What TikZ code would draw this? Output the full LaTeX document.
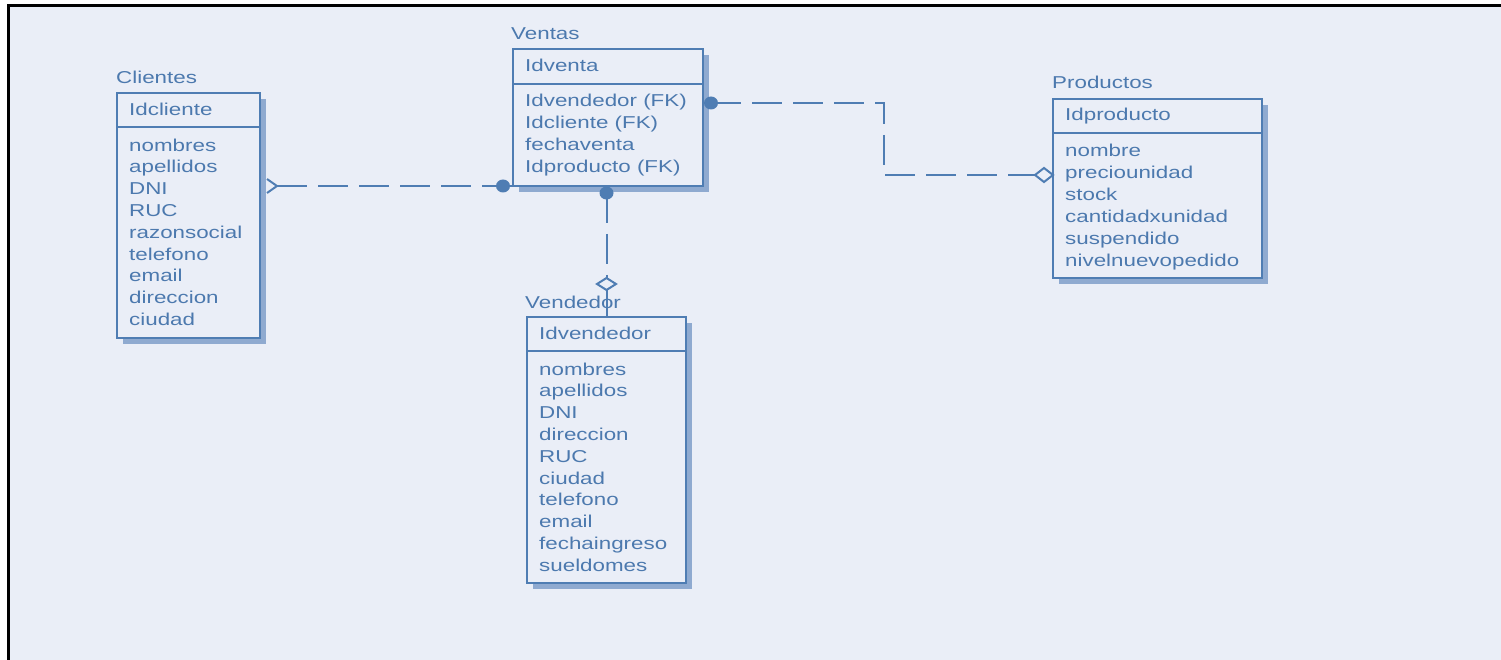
\documentclass[tikz,border=0pt]{standalone}
\usepackage{fontspec}
\setmainfont{Liberation Sans}[FakeStretch=1.3]
\usetikzlibrary{calc,shadows}
\definecolor{bgc}{HTML}{EAEEF7}
\definecolor{lnc}{HTML}{4F7DB3}
\definecolor{txc}{HTML}{4C79AE}
\definecolor{shc}{HTML}{8FAAD0}
\begin{document}
\begin{tikzpicture}[x=1pt,y=-1pt,
 entity/.style={draw=lnc, line width=2pt, fill=bgc, rectangle, inner sep=0pt, anchor=north west,
   drop shadow={shadow xshift=6pt,shadow yshift=-6pt,fill=shc,opacity=1}},
 etitle/.style={text=txc, font=\fontsize{17.2}{21.8}\selectfont, inner sep=0pt, anchor=base west},
 attr/.style={etitle, align=left},
 rel/.style={draw=lnc, line width=2pt},
 reldash/.style={rel, dash pattern=on 30pt off 11pt},
 dotc/.style={fill=lnc},
 dia/.style={draw=lnc, line width=2pt, fill=bgc}]
\useasboundingbox (0,0) rectangle (1501,660);
\fill[white] (0,0) rectangle (1501,660);
\fill[bgc] (8,6) rectangle (1501,660);
\draw[black, line width=3pt] (8,660) -- (8,6) -- (1501,6);

% Clientes
\node[entity, minimum width=143pt, minimum height=245pt] (cli) at (116,92) {};
\draw[rel] (cli.west |- 0,127) -- (cli.east |- 0,127);
\node[etitle] (clin) at (116,84) {Clientes};
\node[etitle] (clik) at (129,116) {Idcliente};
\node[attr] (clia) at (129,325.4) {nombres\\apellidos\\DNI\\RUC\\razonsocial\\telefono\\email\\direccion\\ciudad};

% Ventas
\node[entity, minimum width=190pt, minimum height=137pt] (vta) at (512,48) {};
\draw[rel] (vta.west |- 0,84) -- (vta.east |- 0,84);
\node[etitle] (vtan) at (511,40) {Ventas};
\node[etitle] (vtak) at (525,72) {Idventa};
\node[attr] (vtaa) at (525,172.4) {Idvendedor (FK)\\Idcliente (FK)\\fechaventa\\Idproducto (FK)};

% Productos
\node[entity, minimum width=209pt, minimum height=179pt] (prd) at (1052,98) {};
\draw[rel] (prd.west |- 0,133) -- (prd.east |- 0,133);
\node[etitle] (prdn) at (1052,89) {Productos};
\node[etitle] (prdk) at (1065,121) {Idproducto};
\node[attr] (prda) at (1065,266) {nombre\\preciounidad\\stock\\cantidadxunidad\\suspendido\\nivelnuevopedido};

% Vendedor
\node[entity, minimum width=159pt, minimum height=266pt] (vdr) at (526,316) {};
\draw[rel] (vdr.west |- 0,351) -- (vdr.east |- 0,351);
\node[etitle] (vdrn) at (525,308) {Vendedor};
\node[etitle] (vdrk) at (539,339) {Idvendedor};
\node[attr] (vdra) at (539,571.2) {nombres\\apellidos\\DNI\\direccion\\RUC\\ciudad\\telefono\\email\\fechaingreso\\sueldomes};

% Clientes -- Ventas
\path (cli.east |- vta.south west) ++(16,-1) coordinate (k1tip);
\path (vta.south west) ++(-9,-1) coordinate (k1dot);
\draw[rel] (k1tip) ++(-10,-7) -- (k1tip) -- ++(-10,7);
\draw[reldash] (k1tip) -- (k1dot);
\draw[rel] (k1dot) -- (vta.west |- k1dot);
\fill[dotc] (k1dot) ellipse (7 and 6.5);

% Ventas -- Vendedor
\path (vdr.north |- vta.south) ++(0,6) coordinate (k2dot);
\path (vdr.north) ++(0,-32) coordinate (k2dia);
\draw[reldash] (k2dot) -- ($(k2dia)+(0,-6)$);
\draw[rel] ($(k2dia)+(0,6)$) -- (vdr.north);
\draw[dia] (k2dia) ++(-9.5,0) -- ++(9.5,-6) -- ++(9.5,6) -- ++(-9.5,6) -- cycle;
\fill[dotc] (k2dot) ellipse (7 and 6.5);

% Ventas -- Productos
\path (vta.north east) ++(7,55) coordinate (k3dot);
\path (prd.north west) ++(-8,77) coordinate (k3dia);
\coordinate (k3mid) at ($(k3dot)!0.52!(k3dia)$);
\draw[rel] (vta.east |- k3dot) -- (k3dot);
\draw[reldash] (k3dot) -| (k3mid) |- ($(k3dia)+(-9,0)$);
\draw[dia] (k3dia) ++(-9,0) -- ++(9,-7) -- ++(9,7) -- ++(-9,7) -- cycle;
\fill[dotc] (k3dot) ellipse (7 and 6.5);
\end{tikzpicture}
\end{document}
